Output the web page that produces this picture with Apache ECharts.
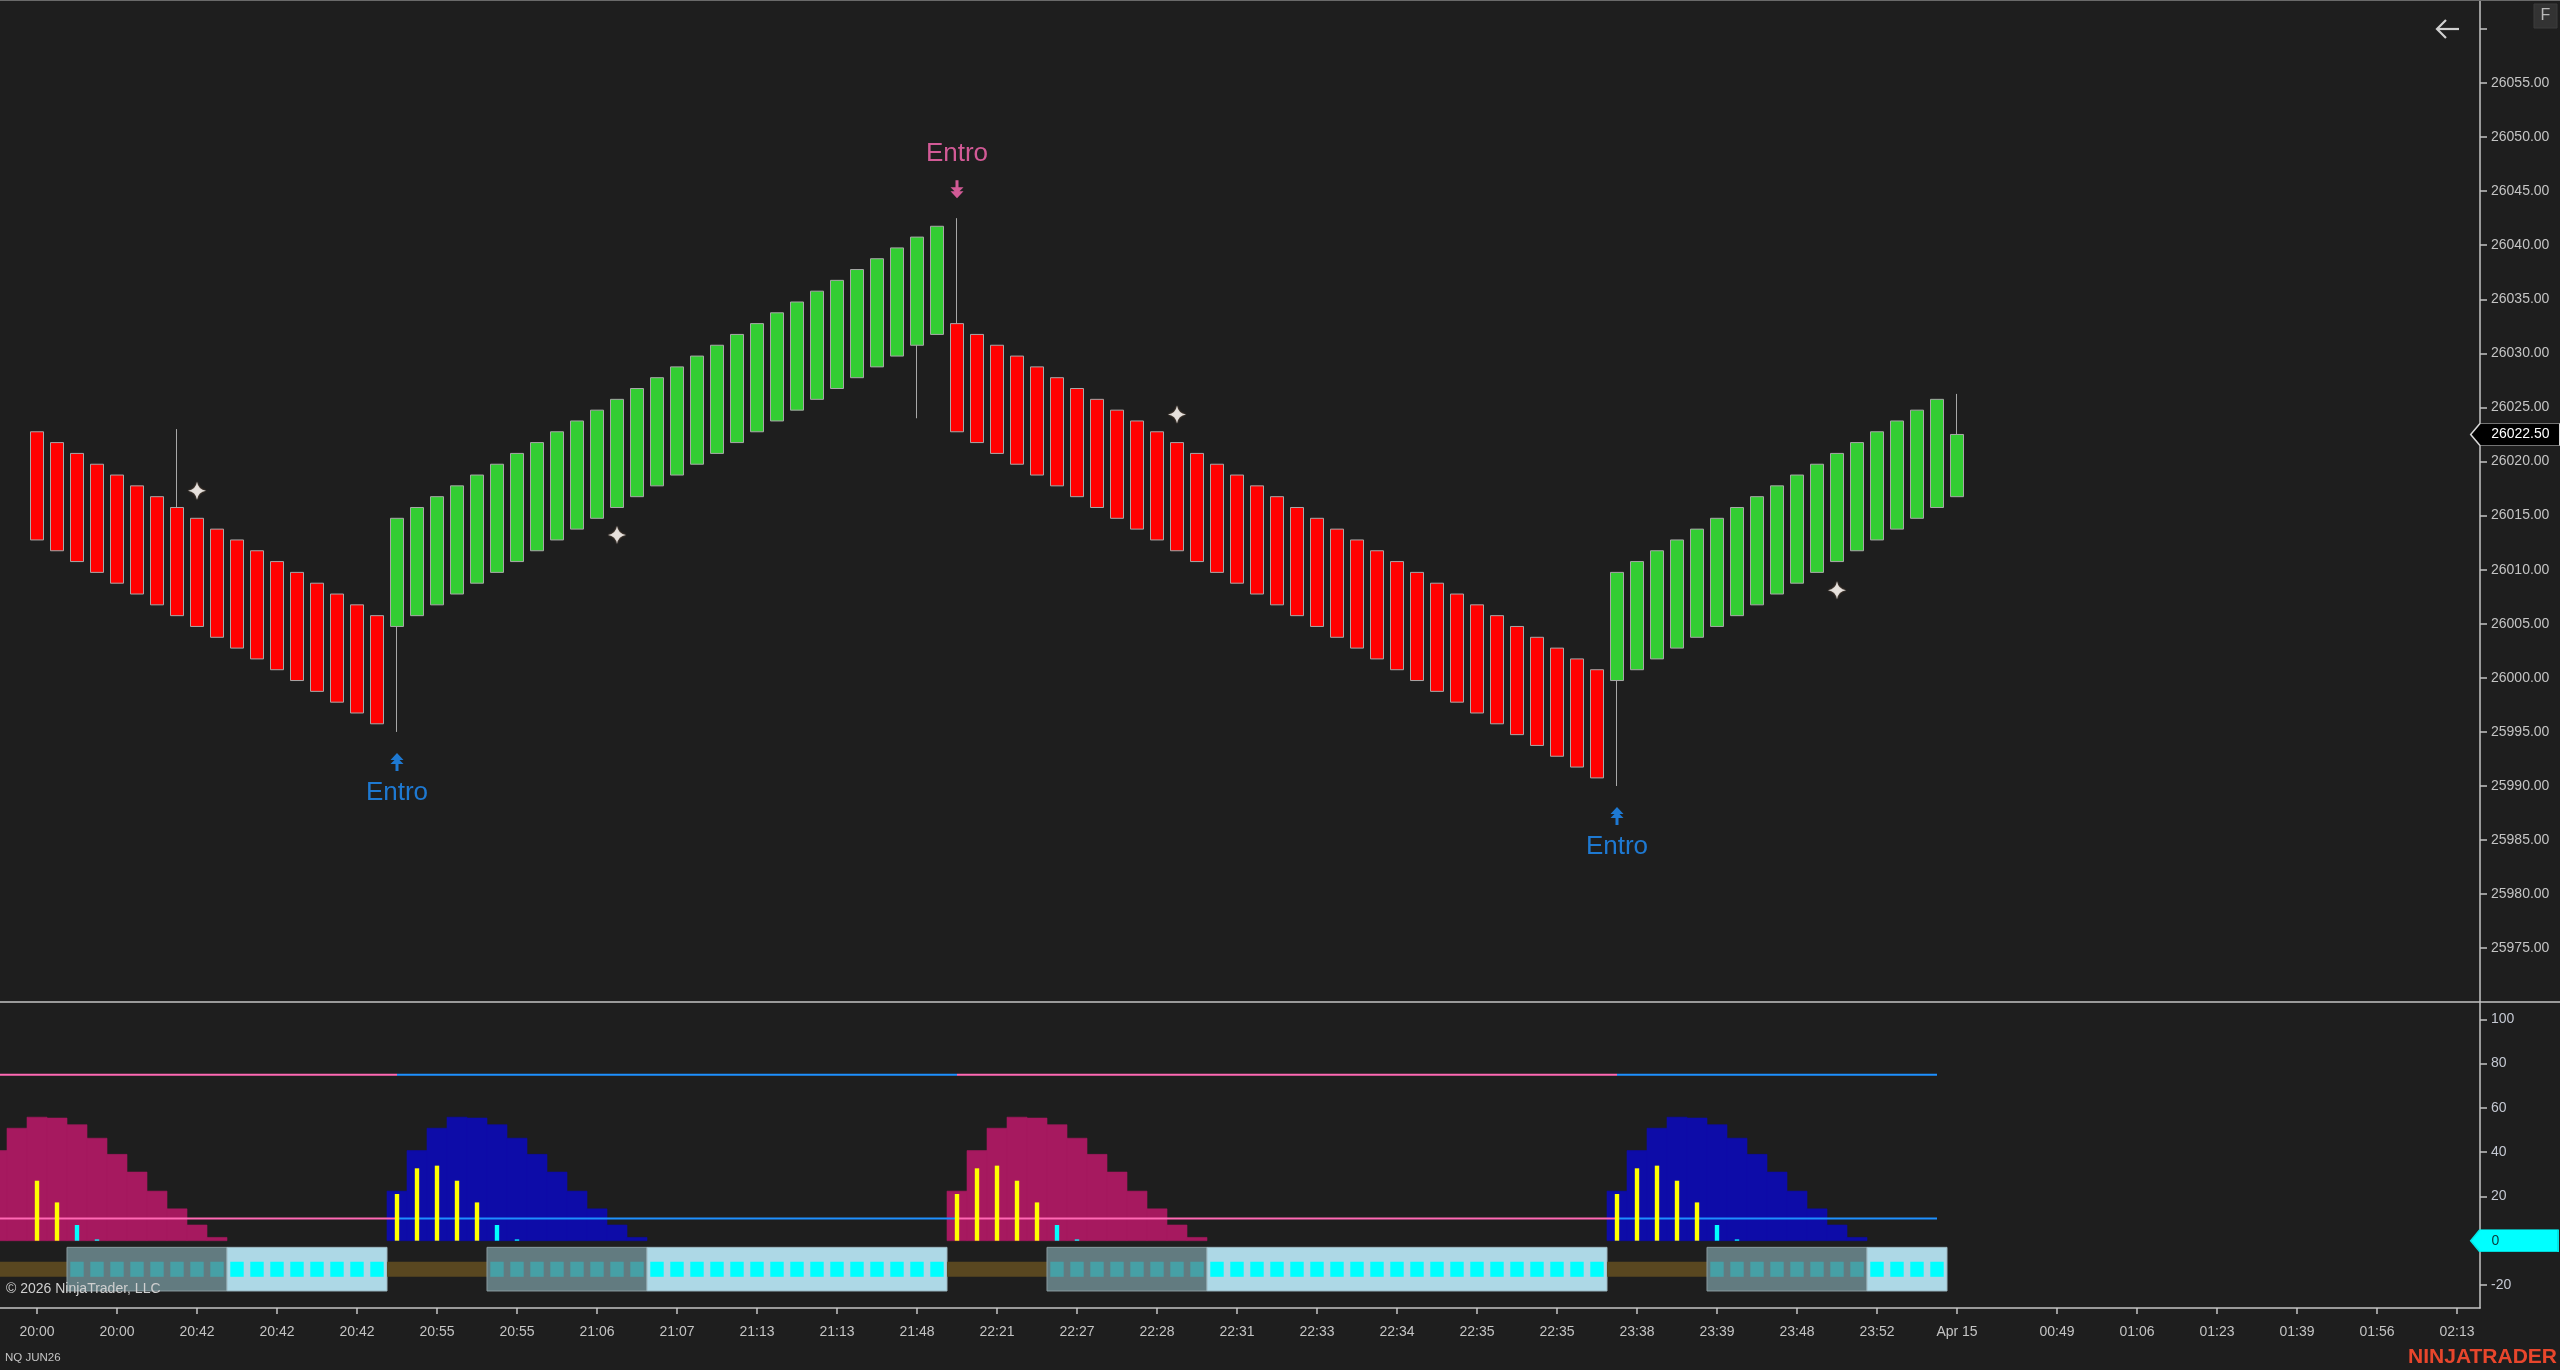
<!DOCTYPE html>
<html>
<head>
<meta charset="utf-8">
<script src="https://cdn.jsdelivr.net/npm/echarts@6/dist/echarts.min.js"></script>
<style>
html,body{margin:0;padding:0;background:#1e1e1e;overflow:hidden}
#chart{width:2560px;height:1370px}
</style>
</head>
<body>
<div id="chart"></div>
<script>
// ---------------- DATA ----------------
// Price bars (index 0..96)
const barOpen = [
  26022.75, 26021.75, 26020.75, 26019.75, 26018.75, 26017.75, 26016.75, 26015.75, 26014.75, 26013.75,
  26012.75, 26011.75, 26010.75, 26009.75, 26008.75, 26007.75, 26006.75, 26005.75,
  26004.75, 26005.75, 26006.75, 26007.75, 26008.75, 26009.75, 26010.75, 26011.75, 26012.75, 26013.75,
  26014.75, 26015.75, 26016.75, 26017.75, 26018.75, 26019.75, 26020.75, 26021.75, 26022.75, 26023.75,
  26024.75, 26025.75, 26026.75, 26027.75, 26028.75, 26029.75, 26030.75, 26031.75,
  26032.75, 26031.75, 26030.75, 26029.75, 26028.75, 26027.75, 26026.75, 26025.75, 26024.75, 26023.75,
  26022.75, 26021.75, 26020.75, 26019.75, 26018.75, 26017.75, 26016.75, 26015.75, 26014.75, 26013.75,
  26012.75, 26011.75, 26010.75, 26009.75, 26008.75, 26007.75, 26006.75, 26005.75, 26004.75, 26003.75,
  26002.75, 26001.75, 26000.75,
  25999.75, 26000.75, 26001.75, 26002.75, 26003.75, 26004.75, 26005.75, 26006.75, 26007.75, 26008.75,
  26009.75, 26010.75, 26011.75, 26012.75, 26013.75, 26014.75, 26015.75,
  26016.75
];
const barClose = [
  26012.75, 26011.75, 26010.75, 26009.75, 26008.75, 26007.75, 26006.75, 26005.75, 26004.75, 26003.75,
  26002.75, 26001.75, 26000.75, 25999.75, 25998.75, 25997.75, 25996.75, 25995.75,
  26014.75, 26015.75, 26016.75, 26017.75, 26018.75, 26019.75, 26020.75, 26021.75, 26022.75, 26023.75,
  26024.75, 26025.75, 26026.75, 26027.75, 26028.75, 26029.75, 26030.75, 26031.75, 26032.75, 26033.75,
  26034.75, 26035.75, 26036.75, 26037.75, 26038.75, 26039.75, 26040.75, 26041.75,
  26022.75, 26021.75, 26020.75, 26019.75, 26018.75, 26017.75, 26016.75, 26015.75, 26014.75, 26013.75,
  26012.75, 26011.75, 26010.75, 26009.75, 26008.75, 26007.75, 26006.75, 26005.75, 26004.75, 26003.75,
  26002.75, 26001.75, 26000.75, 25999.75, 25998.75, 25997.75, 25996.75, 25995.75, 25994.75, 25993.75,
  25992.75, 25991.75, 25990.75,
  26009.75, 26010.75, 26011.75, 26012.75, 26013.75, 26014.75, 26015.75, 26016.75, 26017.75, 26018.75,
  26019.75, 26020.75, 26021.75, 26022.75, 26023.75, 26024.75, 26025.75,
  26022.5
];
const upperWicks = [[7, 26023], [46, 26042.5], [96, 26026.25]];
const lowerWicks = [[18, 25995], [44, 26024], [79, 25990]];
const starMarks = [[8, 26017.3], [29, 26013.2], [57, 26024.35], [90, 26008.1]];
const entrySignals = [[18, 'up'], [46, 'down'], [79, 'up']];
const entryText = 'Entro';

// Time axis
const timeTickIdx = [0, 4, 8, 12, 16, 20, 24, 28, 32, 36, 40, 44, 48, 52, 56, 60, 64, 68, 72, 76, 80, 84, 88, 92, 96,
  101, 105, 109, 113, 117, 121];
const timeTickLabels = ['20:00', '20:00', '20:42', '20:42', '20:42', '20:55', '20:55', '21:06', '21:07', '21:13',
  '21:13', '21:48', '22:21', '22:27', '22:28', '22:31', '22:33', '22:34', '22:35', '22:35', '23:38', '23:39',
  '23:48', '23:52', 'Apr 15', '00:49', '01:06', '01:23', '01:39', '01:56', '02:13'];
const priceLabelValues = [25975, 25980, 25985, 25990, 25995, 26000, 26005, 26010, 26015, 26020, 26025,
  26030, 26035, 26040, 26045, 26050, 26055];
const priceTickValues = [25975, 25980, 25985, 25990, 25995, 26000, 26005, 26010, 26015, 26020, 26025,
  26030, 26035, 26040, 26045, 26050, 26055, 26060];
const oscTickValues = [-20, 0, 20, 40, 60, 80, 100];

// Oscillator panel (index -3..96)
const indStart = -3;
const histValues = [
  22.4, 40.7, 50.8, 55.8, 55.4, 52.4, 46.3, 39, 31, 22.4, 14.4, 7.1, 1.5,
  0, 0, 0, 0, 0, 0, 0, 0,
  22.4, 40.7, 50.8, 55.8, 55.4, 52.4, 46.3, 39, 31, 22.4, 14.4, 7.1, 1.5,
  0, 0, 0, 0, 0, 0, 0, 0, 0, 0, 0, 0, 0, 0, 0,
  22.4, 40.7, 50.8, 55.8, 55.4, 52.4, 46.3, 39, 31, 22.4, 14.4, 7.1, 1.5,
  0, 0, 0, 0, 0, 0, 0, 0, 0, 0, 0, 0, 0, 0, 0, 0, 0, 0, 0, 0,
  22.4, 40.7, 50.8, 55.8, 55.4, 52.4, 46.3, 39, 31, 22.4, 14.4, 7.1, 1.5,
  0, 0, 0, 0, 0
];
const trendSegments = [[-3, 17, -1], [18, 45, 1], [46, 78, -1], [79, 96, 1]];
const yellowBars = [
  [0, 27.1], [1, 17.3],
  [18, 21.1], [19, 32.7], [20, 33.9], [21, 27.1], [22, 17.3],
  [46, 21.1], [47, 32.7], [48, 33.9], [49, 27.1], [50, 17.3],
  [79, 21.1], [80, 32.7], [81, 33.9], [82, 27.1], [83, 17.3]
];
const cyanBars = [[2, 7.1], [3, 0.5], [23, 7.1], [24, 0.5], [51, 7.1], [52, 0.5], [84, 7.1], [85, 0.5]];
// [firstIndex, lastIndex, state]  state: 0 = no box (band), 1 = grey box, 2 = light-blue box
const boxRuns = [[-3, 1, 0], [2, 9, 1], [10, 17, 2], [18, 22, 0], [23, 30, 1], [31, 45, 2],
  [46, 50, 0], [51, 58, 1], [59, 78, 2], [79, 83, 0], [84, 91, 1], [92, 95, 2]];
const upperLevel = 75;
const lowerLevel = 10;
const levelLineEnd = 95;
const oscCurrentValue = 0;

// ---------------- STYLE / LAYOUT ----------------
const FONT = '"Liberation Sans", Arial, sans-serif';
const AXIS = '#c4c4c4';
const LABEL = '#c4c4c4';
const X_MIN = -1.85, X_MAX = 122.15;
const PINK = '#FF69B4', BLUE = '#1E90FF';
const HIST_DN = '#A6195F', HIST_UP = '#0D0CA8';

// ---------------- BUILD ----------------
const candleData = barOpen.map((o, i) => {
  const c = barClose[i];
  let hi = Math.max(o, c), lo = Math.min(o, c);
  upperWicks.forEach(w => { if (w[0] === i) hi = w[1]; });
  lowerWicks.forEach(w => { if (w[0] === i) lo = w[1]; });
  return [i, o, c, lo, hi];
});
const lastClose = barClose[barClose.length - 1];

function dirAt(i) {
  for (const s of trendSegments) if (i >= s[0] && i <= s[1]) return s[2];
  return 0;
}
const histData = histValues.map((v, k) => [indStart + k, v, dirAt(indStart + k)]);

const upSignals = entrySignals.filter(s => s[1] === 'up').map(s => [s[0], candleData[s[0]][3]]);
const dnSignals = entrySignals.filter(s => s[1] === 'down').map(s => [s[0], candleData[s[0]][4]]);

const squareData = [];
boxRuns.forEach(r => { if (r[2] > 0) for (let i = r[0]; i <= r[1]; i++) squareData.push([i, r[2]]); });

const tickLabelMap = {};
timeTickIdx.forEach((v, k) => { tickLabelMap[v] = timeTickLabels[k]; });

const UP_ARROW = 'path://M6.5,0 L13,7 L9,7 L13,11 L8,11 L8,18 L5,18 L5,11 L0,11 L4,7 L0,7 Z';
const DN_ARROW = 'path://M6.5,18 L13,11 L9,11 L13,7 L8,7 L8,0 L5,0 L5,7 L0,7 L4,11 L0,11 Z';
const STAR = 'path://M10,0 Q11.3,8.7 20,10 Q11.3,11.3 10,20 Q8.7,11.3 0,10 Q8.7,8.7 10,0 Z';
const TAG = 'path://M0,11 L9.3,0 L89.3,0 L89.3,22 L9.3,22 Z';

function rectShape(api, x0, x1, y0, y1) {
  const a = api.coord([x0, y0]), b = api.coord([x1, y1]);
  return { x: Math.min(a[0], b[0]), y: Math.min(a[1], b[1]), width: Math.abs(b[0] - a[0]), height: Math.abs(b[1] - a[1]) };
}

const levelSeries = [];
trendSegments.forEach((s, k) => {
  const x0 = s[0];
  const x1 = k < trendSegments.length - 1 ? trendSegments[k + 1][0] : levelLineEnd;
  const col = s[2] > 0 ? BLUE : PINK;
  [upperLevel, lowerLevel].forEach(lv => {
    levelSeries.push({
      type: 'line', xAxisIndex: 1, yAxisIndex: 1, data: [[x0, lv], [x1, lv]],
      showSymbol: false, symbol: 'none', silent: true, z: 4,
      lineStyle: { color: col, width: 2 }
    });
  });
});

const option = {
  backgroundColor: '#1e1e1e',
  animation: false,
  textStyle: { fontFamily: FONT },
  grid: [
    { left: 0, right: 80, top: 0, height: 1002, outerBoundsMode: 'none' },
    { left: 0, right: 80, top: 1003, height: 305, outerBoundsMode: 'none' }
  ],
  xAxis: [
    { type: 'value', gridIndex: 0, min: X_MIN, max: X_MAX, show: false, splitLine: { show: false } },
    {
      type: 'value', gridIndex: 1, min: X_MIN, max: X_MAX, position: 'bottom',
      axisLine: { show: true, onZero: false, lineStyle: { color: AXIS, width: 1.5 } },
      axisTick: { show: true, customValues: timeTickIdx, length: 6, lineStyle: { color: AXIS, width: 1.5 } },
      axisLabel: { customValues: timeTickIdx, formatter: v => tickLabelMap[v] || '', color: LABEL, fontSize: 14, margin: 17, fontFamily: FONT },
      splitLine: { show: false }
    }
  ],
  yAxis: [
    {
      type: 'value', gridIndex: 0, position: 'right', min: 25970.03, max: 26062.67,
      axisLine: { show: true, onZero: false, lineStyle: { color: AXIS, width: 1.5 } },
      axisTick: { show: true, customValues: priceTickValues, length: 7, lineStyle: { color: AXIS, width: 1.5 } },
      axisLabel: { customValues: priceLabelValues, formatter: v => v.toFixed(2), color: LABEL, fontSize: 14, margin: 11, fontFamily: FONT },
      splitLine: { show: false }
    },
    {
      type: 'value', gridIndex: 1, position: 'right', min: -30.39, max: 107.36,
      axisLine: { show: true, onZero: false, lineStyle: { color: AXIS, width: 1.5 } },
      axisTick: { show: true, customValues: oscTickValues, length: 7, lineStyle: { color: AXIS, width: 1.5 } },
      axisLabel: { customValues: oscTickValues, formatter: v => String(v), color: '#c4c8d2', fontSize: 14, margin: 11, fontFamily: FONT },
      splitLine: { show: false }
    }
  ],
  series: [
    {
      type: 'candlestick', name: 'NQ JUN26', xAxisIndex: 0, yAxisIndex: 0,
      data: candleData, encode: { x: 0, y: [1, 2, 3, 4] }, barWidth: 13, silent: true,
      itemStyle: { color: '#32CD32', color0: '#FF0000', borderColor: '#a8a8a8', borderColor0: '#a8a8a8', borderWidth: 1 },
      markPoint: {
        silent: true,
        symbol: TAG, symbolSize: [89.3, 22], symbolOffset: [35.35, 0], symbolKeepAspect: false,
        itemStyle: { color: '#000000', borderColor: '#d8d8d8', borderWidth: 1 },
        label: { show: true, position: 'inside', offset: [5, 0], color: '#ffffff', fontSize: 14, fontFamily: FONT,
          formatter: () => lastClose.toFixed(2) },
        data: [{ coord: [X_MAX, lastClose], value: lastClose }]
      }
    },
    {
      type: 'scatter', xAxisIndex: 0, yAxisIndex: 0, data: starMarks, symbol: STAR, symbolSize: 18, silent: true, z: 5,
      itemStyle: { color: '#ffffff', shadowBlur: 2, shadowColor: 'rgba(255,190,140,0.6)' }
    },
    {
      type: 'scatter', xAxisIndex: 0, yAxisIndex: 0, data: upSignals, symbol: UP_ARROW, symbolSize: [13, 18],
      symbolOffset: [0, 30], silent: true, z: 5,
      itemStyle: { color: BLUE },
      label: { show: true, position: 'inside', offset: [0, 31], formatter: entryText, color: BLUE, fontSize: 26, fontFamily: FONT }
    },
    {
      type: 'scatter', xAxisIndex: 0, yAxisIndex: 0, data: dnSignals, symbol: DN_ARROW, symbolSize: [13, 18],
      symbolOffset: [0, -29], silent: true, z: 5,
      itemStyle: { color: PINK },
      label: { show: true, position: 'inside', offset: [0, -35], formatter: entryText, color: PINK, fontSize: 26, fontFamily: FONT }
    },
    // histogram
    {
      type: 'custom', xAxisIndex: 1, yAxisIndex: 1, data: histData, clip: true, silent: true, z: 2,
      encode: { x: 0, y: 1 },
      renderItem: (params, api) => {
        const i = api.value(0), v = api.value(1);
        if (!v) return null;
        const col = api.value(2) > 0 ? HIST_UP : HIST_DN;
        return { type: 'rect', shape: rectShape(api, i - 0.5, i + 0.5, v, 0), style: { fill: col, stroke: col, lineWidth: 0.6 } };
      }
    },
    ...levelSeries,
    // momentum bars
    {
      type: 'custom', xAxisIndex: 1, yAxisIndex: 1, data: yellowBars, clip: true, silent: true, z: 5,
      encode: { x: 0, y: 1 },
      renderItem: (params, api) => {
        const i = api.value(0), v = api.value(1);
        return { type: 'rect', shape: rectShape(api, i - 0.11, i + 0.11, v, 0), style: { fill: '#FFFF00' } };
      }
    },
    {
      type: 'custom', xAxisIndex: 1, yAxisIndex: 1, data: cyanBars, clip: true, silent: true, z: 5,
      encode: { x: 0, y: 1 },
      renderItem: (params, api) => {
        const i = api.value(0), v = api.value(1);
        return { type: 'rect', shape: rectShape(api, i - 0.11, i + 0.11, Math.max(v, 0.6), 0), style: { fill: '#00FFFF' } };
      }
    },
    // band & boxes
    {
      type: 'custom', xAxisIndex: 1, yAxisIndex: 1, data: boxRuns, clip: true, silent: true, z: 3,
      encode: { x: [0, 1] },
      renderItem: (params, api) => {
        const a = api.value(0), b = api.value(1), st = api.value(2);
        if (st === 0) {
          return { type: 'rect', shape: rectShape(api, a - 0.5, b + 0.5, -9.5, -16.3), style: { fill: '#594720' } };
        }
        return {
          type: 'rect', shape: rectShape(api, a - 0.5, b + 0.5, -3, -22.7),
          style: st === 1 ? { fill: '#627B80', stroke: '#8a9ca0', lineWidth: 1 } : { fill: '#ADD8E6', stroke: '#9cb8c2', lineWidth: 1 }
        };
      }
    },
    {
      type: 'custom', xAxisIndex: 1, yAxisIndex: 1, data: squareData, clip: true, silent: true, z: 4,
      encode: { x: 0 },
      renderItem: (params, api) => {
        const i = api.value(0), st = api.value(1);
        return { type: 'rect', shape: rectShape(api, i - 0.335, i + 0.335, -9.5, -16.3), style: { fill: st === 1 ? '#46A0A6' : '#00FFFF' } };
      }
    },
    {
      type: 'line', xAxisIndex: 1, yAxisIndex: 1, data: [[levelLineEnd, oscCurrentValue]], showSymbol: false, symbol: 'none',
      lineStyle: { opacity: 0 }, silent: true, z: 6,
      markPoint: {
        silent: true,
        symbol: TAG, symbolSize: [87.3, 22], symbolOffset: [34.35, 0], symbolKeepAspect: false,
        itemStyle: { color: '#00FFFF', borderColor: '#00e6e6', borderWidth: 1 },
        label: { show: true, position: 'inside', offset: [-19, 0], color: '#0b3a3a', fontSize: 14, fontFamily: FONT,
          formatter: () => String(oscCurrentValue) },
        data: [{ coord: [X_MAX, oscCurrentValue], value: oscCurrentValue }]
      }
    }
  ],
  graphic: [
    { type: 'line', z: 50, silent: true, shape: { x1: 0, y1: 0.5, x2: 2560, y2: 0.5 }, style: { stroke: '#6a6a6a', lineWidth: 1 } },
    { type: 'line', z: 50, silent: true, shape: { x1: 0, y1: 1002, x2: 2560, y2: 1002 }, style: { stroke: AXIS, lineWidth: 1.5 } },
    { type: 'rect', z: 50, silent: true, shape: { x: 2534, y: 4, width: 23, height: 24 }, style: { fill: '#333333', stroke: '#3d3d3d' } },
    { type: 'text', z: 51, silent: true, x: 2545.5, y: 16, style: { text: 'F', fill: '#b8b8b8', font: '16px ' + FONT, align: 'center', verticalAlign: 'middle' } },
    { type: 'polyline', z: 50, silent: true, shape: { points: [[2459, 29], [2437, 29]] }, style: { stroke: '#d0d0d0', lineWidth: 2.2 } },
    { type: 'polyline', z: 50, silent: true, shape: { points: [[2446, 20], [2437, 29], [2446, 38]] }, style: { stroke: '#d0d0d0', lineWidth: 2.2, fill: null } },
    { type: 'text', z: 60, silent: true, x: 6, y: 1289, style: { text: '\u00A9 2026 NinjaTrader, LLC', fill: '#cfcfcf', font: '14px ' + FONT, verticalAlign: 'middle' } },
    { type: 'text', z: 60, silent: true, x: 5, y: 1358, style: { text: 'NQ JUN26', fill: '#c4c4c4', font: '11.5px ' + FONT, verticalAlign: 'middle' } },
    { type: 'text', z: 60, silent: true, x: 2557, y: 1357, style: { text: 'NINJATRADER', fill: '#E8462C', font: 'bold 21px ' + FONT, align: 'right', verticalAlign: 'middle' } }
  ]
};

const chart = echarts.init(document.getElementById('chart'), null, { renderer: 'canvas' });
chart.setOption(option);
</script>
</body>
</html>
